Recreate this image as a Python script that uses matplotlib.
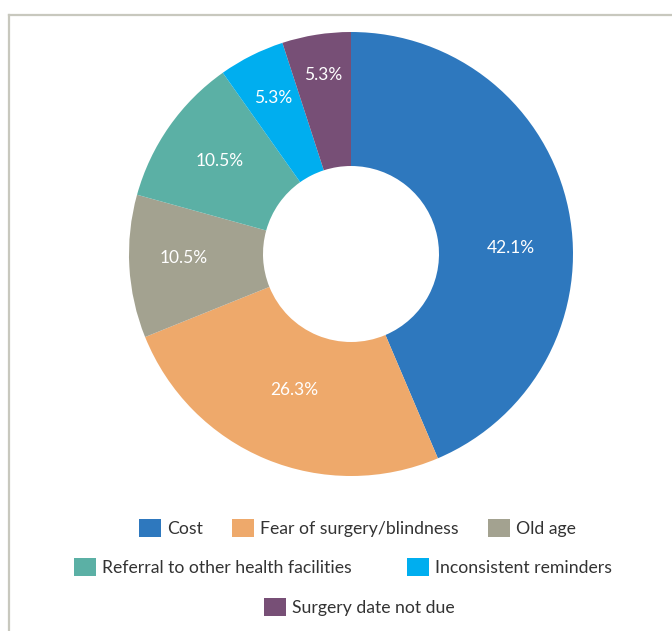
import numpy as np
import matplotlib
matplotlib.use("Agg")
import matplotlib.pyplot as plt
from matplotlib.patches import Patch
from matplotlib.lines import Line2D

categories = ["Cost", "Fear of surgery/blindness", "Old age",
              "Referral to other health facilities", "Inconsistent reminders",
              "Surgery date not due"]
# percentages printed on the slices
labels_pct = [42.1, 26.3, 10.5, 10.5, 5.3, 5.3]
# slice sizes as drawn in the picture (shares of the ring, %)
slice_sizes = [43.6, 25.3, 10.4, 10.9, 4.8, 5.0]
colors = ["#2E78BE", "#EEA96B", "#A3A290", "#5BB0A5", "#00AEEF", "#774F76"]
legend_rows = [[0, 1, 2], [3, 4], [5]]

plt.rcParams['font.family'] = ['Lato', 'DejaVu Sans']

W, H = 672, 631
fig = plt.figure(figsize=(W / 100, H / 100), dpi=100)
fig.patch.set_facecolor("white")

# frame lines (top & left)
fig.add_artist(Line2D([9 / W, 1], [1 - 15 / H, 1 - 15 / H], color="#c8c8be", lw=1.6, transform=fig.transFigure))
fig.add_artist(Line2D([9 / W, 9 / W], [0, 1 - 15 / H], color="#c8c8be", lw=1.6, transform=fig.transFigure))

cx, cy, R = 351, 254, 222
ax = fig.add_axes([(cx - R) / W, (H - cy - R) / H, 2 * R / W, 2 * R / H])
wedges, texts = ax.pie(slice_sizes, colors=colors, startangle=90, counterclock=False,
                       radius=1, wedgeprops=dict(width=1 - 88 / 222, linewidth=0))
ax.set_xlim(-1, 1)
ax.set_ylim(-1, 1)
ax.axis("off")

# label placement (style): radial distance and position along each wedge
label_r = [0.72, 0.665, 0.755, 0.725, 0.785, 0.815]
label_frac = [0.44, 0.5, 0.45, 0.5, 0.5, 0.5]
for i, w in enumerate(wedges):
    t1, t2 = w.theta1, w.theta2
    ang = np.deg2rad(t1 + (t2 - t1) * label_frac[i])
    ax.text(label_r[i] * np.cos(ang), label_r[i] * np.sin(ang), f"{labels_pct[i]:.1f}%",
            ha="center", va="center", color="white", fontsize=12.5)

fs = 12.7
row_y = [528, 567, 607]
row_left = [139, 74, 264]
row_gap = [1.65, 3.1, 1.65]
for r, idx in enumerate(legend_rows):
    handles = [Patch(facecolor=colors[i], edgecolor="none") for i in idx]
    labels = [categories[i] for i in idx]
    fig.legend(handles, labels, loc="center left", bbox_to_anchor=(row_left[r] / W, 1 - row_y[r] / H),
               ncol=len(idx), frameon=False, fontsize=fs, handlelength=1.25,
               handleheight=1.25, handletextpad=0.35, columnspacing=row_gap[r],
               labelcolor="#333333", borderpad=0, borderaxespad=0)

fig.savefig("out.png", dpi=100, facecolor="white")
